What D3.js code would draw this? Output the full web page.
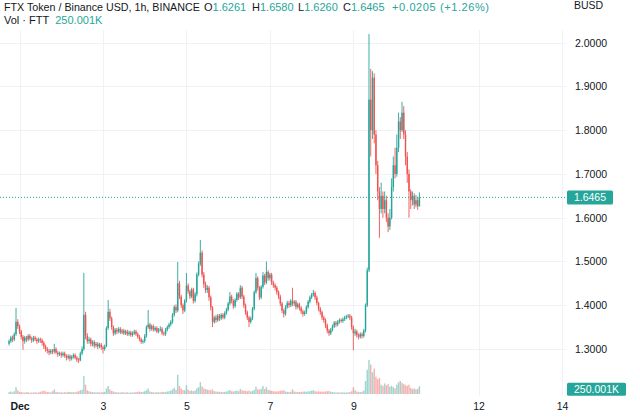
<!DOCTYPE html>
<html>
<head>
<meta charset="utf-8">
<script src="https://cdn.jsdelivr.net/npm/d3@7"></script>
<style>
  html, body { margin: 0; padding: 0; background: #ffffff; }
  svg { display: block; }
  text { font-family: "Liberation Sans", Arial, sans-serif; }
</style>
</head>
<body>
<svg id="chart" width="640" height="417"></svg>
<script>
// ---------------- DATA ----------------
const startTime = "2022-11-30T18:00:00Z"; // first hourly candle
const opens = [
1.312,1.318,1.326,1.322,1.334,1.362,1.352,1.340,1.328,1.318,
1.326,1.322,1.330,1.324,1.320,1.326,1.322,1.318,1.322,1.320,
1.314,1.306,1.300,1.296,1.292,1.296,1.294,1.300,1.292,1.288,
1.290,1.286,1.290,1.284,1.280,1.284,1.278,1.282,1.286,1.280,
1.276,1.274,1.290,1.300,1.378,1.330,1.318,1.322,1.312,1.316,
1.308,1.312,1.306,1.310,1.304,1.300,1.306,1.348,1.385,1.370,
1.350,1.336,1.344,1.340,1.346,1.338,1.342,1.336,1.340,1.334,
1.338,1.332,1.336,1.340,1.334,1.328,1.322,1.316,1.318,1.330,
1.350,1.356,1.346,1.352,1.344,1.348,1.340,1.344,1.346,1.336,
1.334,1.344,1.350,1.356,1.362,1.378,1.396,1.388,1.450,1.420,
1.400,1.388,1.410,1.445,1.432,1.420,1.436,1.410,1.425,1.470,
1.495,1.520,1.470,1.448,1.435,1.440,1.418,1.395,1.362,1.372,
1.366,1.376,1.370,1.378,1.372,1.382,1.390,1.404,1.420,1.410,
1.398,1.412,1.426,1.418,1.440,1.420,1.400,1.384,1.372,1.362,
1.370,1.392,1.430,1.462,1.440,1.418,1.442,1.468,1.452,1.476,
1.462,1.470,1.452,1.446,1.440,1.430,1.420,1.404,1.388,1.380,
1.396,1.405,1.400,1.410,1.404,1.408,1.396,1.402,1.394,1.386,
1.380,1.384,1.396,1.408,1.418,1.424,1.428,1.418,1.405,1.392,
1.384,1.372,1.366,1.354,1.342,1.336,1.344,1.352,1.360,1.356,
1.362,1.366,1.364,1.368,1.372,1.374,1.376,1.372,1.350,1.336,
1.340,1.332,1.328,1.334,1.330,1.342,1.400,1.480,1.870,1.800,
1.920,1.790,1.720,1.660,1.620,1.650,1.620,1.640,1.600,1.580,
1.600,1.670,1.720,1.700,1.760,1.820,1.800,1.840,1.790,1.740,
1.700,1.660,1.640,1.650,1.630,1.640,1.6261];
const highs = [
1.322,1.330,1.331,1.338,1.394,1.368,1.356,1.344,1.332,1.330,
1.330,1.334,1.334,1.328,1.330,1.330,1.326,1.326,1.326,1.324,
1.318,1.310,1.304,1.300,1.300,1.300,1.312,1.304,1.296,1.294,
1.294,1.294,1.294,1.288,1.288,1.288,1.286,1.290,1.290,1.284,
1.280,1.294,1.306,1.474,1.385,1.336,1.328,1.326,1.320,1.320,
1.316,1.316,1.314,1.314,1.308,1.310,1.352,1.412,1.392,1.374,
1.354,1.348,1.348,1.350,1.350,1.346,1.346,1.344,1.344,1.342,
1.342,1.340,1.344,1.344,1.338,1.332,1.326,1.322,1.334,1.354,
1.389,1.360,1.356,1.356,1.352,1.352,1.348,1.352,1.350,1.340,
1.348,1.354,1.360,1.366,1.382,1.400,1.402,1.499,1.456,1.424,
1.404,1.414,1.474,1.450,1.436,1.440,1.440,1.430,1.475,1.500,
1.549,1.525,1.476,1.454,1.446,1.444,1.422,1.398,1.376,1.378,
1.380,1.380,1.382,1.382,1.386,1.394,1.408,1.430,1.424,1.414,
1.416,1.430,1.430,1.446,1.444,1.424,1.404,1.388,1.376,1.374,
1.396,1.434,1.474,1.466,1.444,1.446,1.476,1.472,1.500,1.480,
1.474,1.474,1.456,1.450,1.444,1.434,1.424,1.408,1.392,1.400,
1.410,1.410,1.414,1.440,1.412,1.412,1.406,1.406,1.398,1.390,
1.388,1.400,1.412,1.422,1.428,1.435,1.432,1.422,1.408,1.396,
1.388,1.376,1.370,1.358,1.346,1.348,1.356,1.364,1.364,1.366,
1.370,1.370,1.372,1.376,1.378,1.380,1.380,1.376,1.354,1.346,
1.344,1.336,1.338,1.338,1.346,1.404,1.486,2.020,1.940,1.935,
1.930,1.800,1.730,1.670,1.680,1.660,1.660,1.650,1.610,1.620,
1.690,1.740,1.760,1.790,1.840,1.830,1.865,1.855,1.800,1.750,
1.710,1.665,1.660,1.656,1.652,1.648,1.658];
const lows = [
1.308,1.314,1.316,1.318,1.330,1.346,1.334,1.322,1.298,1.312,
1.316,1.318,1.320,1.314,1.316,1.318,1.312,1.314,1.314,1.308,
1.300,1.294,1.290,1.286,1.288,1.288,1.290,1.288,1.282,1.284,
1.280,1.282,1.280,1.274,1.276,1.272,1.274,1.278,1.276,1.270,
1.268,1.272,1.286,1.296,1.322,1.312,1.312,1.306,1.306,1.302,
1.304,1.300,1.302,1.298,1.290,1.296,1.304,1.344,1.364,1.344,
1.330,1.332,1.334,1.336,1.334,1.334,1.332,1.332,1.330,1.330,
1.328,1.328,1.332,1.330,1.324,1.318,1.312,1.312,1.314,1.326,
1.346,1.340,1.342,1.340,1.340,1.336,1.336,1.340,1.332,1.330,
1.330,1.340,1.346,1.352,1.358,1.374,1.382,1.384,1.414,1.394,
1.380,1.384,1.406,1.426,1.414,1.416,1.404,1.406,1.420,1.466,
1.490,1.464,1.440,1.428,1.428,1.410,1.388,1.350,1.358,1.360,
1.362,1.364,1.366,1.368,1.368,1.378,1.386,1.400,1.404,1.392,
1.394,1.408,1.412,1.414,1.414,1.394,1.378,1.366,1.350,1.358,
1.366,1.388,1.426,1.434,1.412,1.414,1.438,1.446,1.448,1.456,
1.456,1.446,1.440,1.434,1.424,1.414,1.398,1.382,1.372,1.376,
1.392,1.394,1.396,1.398,1.398,1.390,1.392,1.388,1.380,1.374,
1.376,1.380,1.392,1.404,1.414,1.420,1.412,1.400,1.386,1.378,
1.366,1.360,1.348,1.336,1.330,1.332,1.340,1.348,1.350,1.352,
1.358,1.360,1.360,1.364,1.368,1.370,1.366,1.344,1.297,1.330,
1.326,1.322,1.324,1.324,1.326,1.338,1.396,1.476,1.740,1.780,
1.770,1.700,1.640,1.554,1.610,1.600,1.610,1.590,1.567,1.572,
1.596,1.660,1.690,1.694,1.750,1.780,1.796,1.780,1.720,1.680,
1.600,1.620,1.628,1.620,1.624,1.618,1.626];
const closes = [
1.318,1.326,1.322,1.334,1.362,1.352,1.340,1.328,1.318,1.326,
1.322,1.330,1.324,1.320,1.326,1.322,1.318,1.322,1.320,1.314,
1.306,1.300,1.296,1.292,1.296,1.294,1.300,1.292,1.288,1.290,
1.286,1.290,1.284,1.280,1.284,1.278,1.282,1.286,1.280,1.276,
1.274,1.290,1.300,1.378,1.330,1.318,1.322,1.312,1.316,1.308,
1.312,1.306,1.310,1.304,1.300,1.306,1.348,1.385,1.370,1.350,
1.336,1.344,1.340,1.346,1.338,1.342,1.336,1.340,1.334,1.338,
1.332,1.336,1.340,1.334,1.328,1.322,1.316,1.318,1.330,1.350,
1.356,1.346,1.352,1.344,1.348,1.340,1.344,1.346,1.336,1.334,
1.344,1.350,1.356,1.362,1.378,1.396,1.388,1.450,1.420,1.400,
1.388,1.410,1.445,1.432,1.420,1.436,1.410,1.425,1.470,1.495,
1.520,1.470,1.448,1.435,1.440,1.418,1.395,1.362,1.372,1.366,
1.376,1.370,1.378,1.372,1.382,1.390,1.404,1.420,1.410,1.398,
1.412,1.426,1.418,1.440,1.420,1.400,1.384,1.372,1.362,1.370,
1.392,1.430,1.462,1.440,1.418,1.442,1.468,1.452,1.476,1.462,
1.470,1.452,1.446,1.440,1.430,1.420,1.404,1.388,1.380,1.396,
1.405,1.400,1.410,1.404,1.408,1.396,1.402,1.394,1.386,1.380,
1.384,1.396,1.408,1.418,1.424,1.428,1.418,1.405,1.392,1.384,
1.372,1.366,1.354,1.342,1.336,1.344,1.352,1.360,1.356,1.362,
1.366,1.364,1.368,1.372,1.374,1.376,1.372,1.350,1.336,1.340,
1.332,1.328,1.334,1.330,1.342,1.400,1.480,1.870,1.800,1.920,
1.790,1.720,1.660,1.620,1.650,1.620,1.640,1.600,1.580,1.600,
1.670,1.720,1.700,1.760,1.820,1.800,1.840,1.790,1.740,1.700,
1.660,1.640,1.650,1.630,1.640,1.6261,1.6465];
// volume in thousands FTT
const volumes = [
60,80,50,90,220,120,70,60,50,45,
60,55,40,50,45,60,40,55,70,90,
110,80,60,70,50,90,150,70,60,50,
55,45,60,50,70,65,55,60,50,75,
90,120,140,580,300,120,90,70,60,55,
50,60,45,55,60,70,180,260,150,100,
80,60,55,50,45,60,50,45,55,40,
50,45,55,60,70,80,60,70,90,120,
180,80,60,55,50,60,55,50,65,70,
60,80,90,110,150,200,130,620,260,180,
130,120,280,140,100,120,90,110,180,220,
380,240,180,160,140,130,120,150,90,80,
70,75,60,65,70,80,100,130,90,80,
95,110,90,160,120,110,100,90,110,80,
100,130,240,150,140,170,260,160,220,130,
120,100,90,85,80,90,100,110,120,80,
70,65,75,150,80,70,60,65,70,75,
80,70,85,90,110,120,90,80,85,75,
80,70,85,90,100,70,60,55,50,55,
45,50,55,45,50,55,60,90,220,120,
80,70,60,75,110,420,780,1100,950,700,
820,560,480,520,300,260,340,280,320,240,
260,220,180,300,380,420,360,320,280,260,
300,200,160,180,150,170,250.001];

const priceTicks = [1.3, 1.4, 1.5, 1.6, 1.7, 1.8, 1.9, 2.0];
const xTickDates = ["2022-12-01","2022-12-03","2022-12-05","2022-12-07","2022-12-09","2022-12-12","2022-12-14"];
const xTickLabels = ["Dec","3","5","7","9","12","14"];
const lastPrice = 1.6465;
const lastVolumeLabel = "250.001K";
const headerTitle = "FTX Token / Binance USD, 1h, BINANCE";
const headerOHLC = [["O","1.6261"],["H","1.6580"],["L","1.6260"],["C","1.6465"]];
const headerChange = "+0.0205 (+1.26%)";
const volTitle = "Vol · FTT";
const currencyLabel = "BUSD";

// ---------------- DRAW ----------------
const UP = "#26a69a", DOWN = "#ef5350", TXT = "#131722";
const svg = d3.select("#chart");
const plotRight = 566;

const t0 = new Date(startTime).getTime();
const candles = closes.map((c, i) => ({
  t: new Date(t0 + i * 3600e3), o: opens[i], h: highs[i], l: lows[i], c: c, v: volumes[i]
}));

const x = d3.scaleUtc()
  .domain([new Date("2022-12-01T00:00:00Z"), new Date("2022-12-14T00:00:00Z")])
  .range([19.5, 562]);
const y = d3.scaleLinear().domain([1.3, 2.0]).range([349, 42.7]);
const yv = d3.scaleLinear().domain([0, 1000]).range([394, 363]);

// grid
const grid = svg.append("g");
grid.selectAll("line.h").data(priceTicks).join("line")
  .attr("x1", 0).attr("x2", plotRight)
  .attr("y1", d => Math.round(y(d)) + 0.5).attr("y2", d => Math.round(y(d)) + 0.5)
  .attr("stroke", "#f0f2f6").attr("stroke-width", 1);
grid.selectAll("line.v").data(xTickDates).join("line")
  .attr("x1", d => Math.round(x(new Date(d + "T00:00:00Z"))) + 0.5)
  .attr("x2", d => Math.round(x(new Date(d + "T00:00:00Z"))) + 0.5)
  .attr("y1", 30).attr("y2", 396)
  .attr("stroke", "#f0f2f6").attr("stroke-width", 1);

// volume bars
const bw = 1.45;
svg.append("g").selectAll("rect").data(candles).join("rect")
  .attr("x", d => x(d.t) - bw / 2)
  .attr("width", bw)
  .attr("y", d => yv(d.v))
  .attr("height", d => yv(0) - yv(d.v))
  .attr("fill", d => d.c >= d.o ? UP : DOWN)
  .attr("opacity", 0.45);

// candles
const cg = svg.append("g");
cg.selectAll("line").data(candles).join("line")
  .attr("x1", d => x(d.t)).attr("x2", d => x(d.t))
  .attr("y1", d => y(d.h)).attr("y2", d => y(d.l))
  .attr("stroke", d => d.c >= d.o ? UP : DOWN)
  .attr("stroke-width", 0.9);
cg.selectAll("rect").data(candles).join("rect")
  .attr("x", d => x(d.t) - bw / 2)
  .attr("width", bw)
  .attr("y", d => y(Math.max(d.o, d.c)))
  .attr("height", d => Math.max(0.8, Math.abs(y(d.o) - y(d.c))))
  .attr("fill", d => d.c >= d.o ? UP : DOWN);

// last price dotted line
svg.append("line")
  .attr("x1", 0).attr("x2", plotRight)
  .attr("y1", y(lastPrice)).attr("y2", y(lastPrice))
  .attr("stroke", UP).attr("stroke-width", 1).attr("stroke-dasharray", "1,2");

// right price axis
const ax = svg.append("g").attr("transform", `translate(${plotRight},0)`);
const yAxis = d3.axisRight(y).tickValues(priceTicks).tickFormat(d3.format(".4f")).tickSize(0).tickPadding(9);
ax.call(yAxis);
ax.select(".domain").remove();
ax.selectAll("text").attr("fill", TXT).style("font-size", "10.5px").style("font-family", "'Liberation Sans', Arial, sans-serif");

// price label
const ply = y(lastPrice);
svg.append("rect").attr("x", 567).attr("y", ply - 7).attr("width", 46).attr("height", 14).attr("rx", 1.5).attr("fill", UP);
svg.append("text").attr("x", 590).attr("y", ply).attr("dy", "0.35em").attr("text-anchor", "middle")
  .attr("fill", "#fff").style("font-size", "10.5px").text(d3.format(".4f")(lastPrice));

// volume label
const vly = yv(volumes[volumes.length - 1]) + 3;
svg.append("rect").attr("x", 567).attr("y", vly - 6.5).attr("width", 59).attr("height", 13).attr("rx", 1.5).attr("fill", UP);
svg.append("text").attr("x", 596.5).attr("y", vly).attr("dy", "0.35em").attr("text-anchor", "middle")
  .attr("fill", "#fff").style("font-size", "10.5px").text(lastVolumeLabel);

// currency
svg.append("text").attr("x", 574).attr("y", 9).attr("fill", TXT).style("font-size", "10.5px").text(currencyLabel);

// x axis labels
const xa = svg.append("g").attr("transform", "translate(0,398)");
const xAxis = d3.axisBottom(x).tickValues(xTickDates.map(d => new Date(d + "T00:00:00Z")))
  .tickFormat((d, i) => xTickLabels[i]).tickSize(0).tickPadding(5);
xa.call(xAxis);
xa.select(".domain").remove();
xa.selectAll("text").attr("fill", TXT).style("font-size", "10.5px").style("font-family", "'Liberation Sans', Arial, sans-serif")
  .style("font-weight", (d, i) => i === 0 ? "bold" : "normal");

// header
const FS = "11px";
svg.append("text").attr("x", 4).attr("y", 11).style("font-size", "10.7px").attr("fill", TXT).text(headerTitle);
const groupX = [204, 252, 298, 343];
headerOHLC.forEach(([k, v], i) => {
  const t = svg.append("text").attr("x", groupX[i]).attr("y", 11).style("font-size", FS).attr("fill", TXT);
  t.append("tspan").text(k);
  t.append("tspan").attr("fill", UP).text(v);
});
svg.append("text").attr("x", 392).attr("y", 11).style("font-size", FS).attr("fill", UP)
  .attr("textLength", 97).text(headerChange);

const h2 = svg.append("text").attr("x", 4).attr("y", 24).style("font-size", FS).attr("fill", TXT);
h2.append("tspan").text(volTitle);
h2.append("tspan").attr("dx", 6).attr("fill", UP).text(lastVolumeLabel);
</script>
</body>
</html>
